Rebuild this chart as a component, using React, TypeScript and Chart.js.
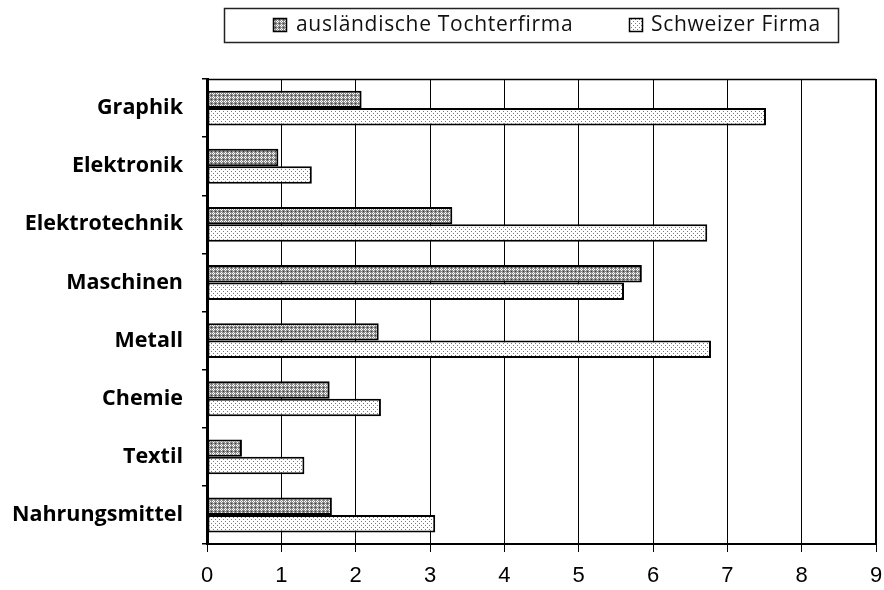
import { useEffect, useRef } from 'react';
import { Chart, registerables } from 'chart.js';

Chart.register(...registerables);

const categories = ['Graphik', 'Elektronik', 'Elektrotechnik', 'Maschinen', 'Metall', 'Chemie', 'Textil', 'Nahrungsmittel'];
const seriesNames = ['ausländische Tochterfirma', 'Schweizer Firma'];
const auslaendisch = [2.08, 0.96, 3.3, 5.85, 2.31, 1.65, 0.47, 1.68];
const schweizer = [7.52, 1.41, 6.73, 5.61, 6.78, 2.34, 1.31, 3.07];
const xMin = 0;
const xMax = 9;
const xStep = 1;

function makePattern(kind: 'dark' | 'light'): CanvasPattern | string {
  const c = document.createElement('canvas');
  c.width = 4;
  c.height = 4;
  const g = c.getContext('2d');
  if (!g) return kind === 'dark' ? '#888' : '#eee';
  if (kind === 'dark') {
    g.fillStyle = '#8a8a8a';
    g.fillRect(0, 0, 4, 4);
    g.fillStyle = '#ffffff';
    g.fillRect(1, 0, 1, 1);
    g.fillRect(0, 1, 1, 1);
    g.fillRect(2, 1, 1, 1);
    g.fillRect(1, 2, 1, 1);
    g.fillStyle = '#3a3a3a';
    g.fillRect(3, 3, 1, 1);
  } else {
    g.fillStyle = '#ffffff';
    g.fillRect(0, 0, 4, 4);
    g.fillStyle = '#7a7a7a';
    g.fillRect(1, 1, 1, 1);
    g.fillRect(3, 3, 1, 1);
  }
  const p = g.createPattern(c, 'repeat');
  return p || '#aaa';
}

export default function App() {
  const ref = useRef<HTMLCanvasElement | null>(null);
  useEffect(() => {
    const canvas = ref.current;
    if (!canvas) return;
    const darkP = makePattern('dark');
    const lightP = makePattern('light');
    const fills = [darkP, lightP];

    const framePlugin = {
      id: 'frameAndLegend',
      afterDraw(chart: any) {
        const ctx = chart.ctx as CanvasRenderingContext2D;
        const a = chart.chartArea;
        ctx.save();
        ctx.strokeStyle = '#000';
        ctx.lineWidth = 1.5;
        ctx.beginPath();
        ctx.moveTo(a.left, a.top + 0.5);
        ctx.lineTo(a.right, a.top + 0.5);
        ctx.stroke();
        ctx.lineWidth = 2;
        ctx.beginPath();
        ctx.moveTo(a.right, a.top);
        ctx.lineTo(a.right, a.bottom);
        ctx.stroke();
        ctx.lineWidth = 1.5;
        ctx.strokeStyle = '#222';
        ctx.strokeRect(224.5, 8.5, 614, 34);
        const items = [
          { sx: 273, tx: 296 },
          { sx: 629, tx: 651 },
        ];
        ctx.font = '21px "Open Sans", Lato, sans-serif';
        (ctx as any).letterSpacing = '0.7px';
        ctx.textBaseline = 'middle';
        ctx.textAlign = 'left';
        items.forEach((it, i) => {
          ctx.fillStyle = fills[i] as any;
          ctx.fillRect(it.sx, 18, 14, 14);
          ctx.lineWidth = 1.5;
          ctx.strokeStyle = '#000';
          ctx.strokeRect(it.sx + 0.5, 18.5, 13, 13);
          ctx.fillStyle = '#111';
          ctx.fillText(seriesNames[i], it.tx, 25.5);
        });
        (ctx as any).letterSpacing = '0px';
        ctx.restore();
      },
    };

    const chart = new Chart(canvas, {
      type: 'bar',
      data: {
        labels: categories,
        datasets: [
          {
            label: seriesNames[0],
            data: auslaendisch,
            backgroundColor: darkP as any,
            borderColor: '#000',
            borderWidth: 2,
            borderSkipped: false,
            barPercentage: 1,
            categoryPercentage: 0.6,
          },
          {
            label: seriesNames[1],
            data: schweizer,
            backgroundColor: lightP as any,
            borderColor: '#000',
            borderWidth: 2,
            borderSkipped: false,
            barPercentage: 1,
            categoryPercentage: 0.6,
          },
        ],
      },
      options: {
        indexAxis: 'y',
        animation: false,
        responsive: false,
        devicePixelRatio: 1,
        layout: { padding: { top: 79, right: 8, left: 0, bottom: 0 } },
        plugins: {
          legend: { display: false },
          tooltip: { enabled: false },
        },
        scales: {
          x: {
            type: 'linear',
            min: xMin,
            max: xMax,
            afterFit: (s: any) => {
              s.height = 46;
              s.paddingLeft = 0;
              s.paddingRight = 0;
            },
            ticks: {
              stepSize: xStep,
              color: '#000',
              padding: 11,
              font: { family: '"Liberation Sans", Arial, sans-serif', size: 22 },
            },
            grid: {
              color: '#000',
              lineWidth: 1,
              tickLength: 8,
              drawTicks: true,
            },
            border: { display: true, color: '#000', width: 2 },
          },
          y: {
            type: 'category',
            afterFit: (s: any) => {
              s.width = 207;
            },
            ticks: {
              color: '#000',
              padding: 19,
              font: { family: '"Open Sans", Lato, sans-serif', size: 21.5, weight: 'bold' },
            },
            grid: {
              offset: true,
              drawOnChartArea: false,
              drawTicks: true,
              tickLength: 5,
              color: '#000',
              lineWidth: 1.5,
            },
            border: { display: true, color: '#000', width: 3 },
          },
        },
      },
      plugins: [framePlugin],
    } as any);
    return () => chart.destroy();
  }, []);

  return (
    <div style={{ position: 'fixed', left: 0, top: 0, width: 884, height: 590, background: '#fff' }}>
      <canvas ref={ref} width={884} height={590} style={{ display: 'block', width: 884, height: 590 }} />
    </div>
  );
}
